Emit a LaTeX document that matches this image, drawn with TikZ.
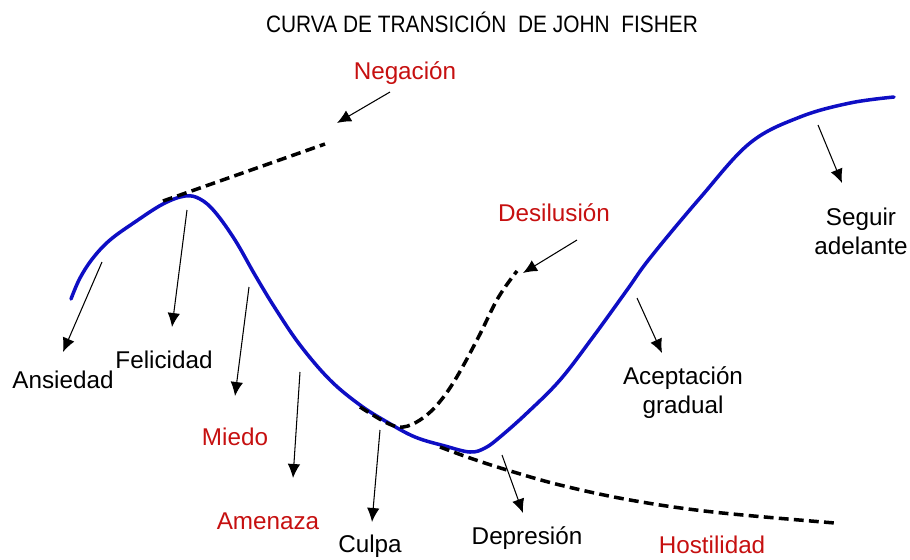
\documentclass[tikz,border=0pt]{standalone}
\usepackage{fontspec}
\setmainfont{Liberation Sans}
\usetikzlibrary{positioning,arrows.meta}
\definecolor{curveblue}{RGB}{14,14,196}
\definecolor{labelred}{RGB}{198,16,16}

\begin{document}
\begin{tikzpicture}[x=0.02cm,y=-0.02cm,
  lab/.style={font=\fontsize{13.8}{16.5}\selectfont, inner sep=0pt, align=center},
  redlab/.style={lab, text=labelred},
  pointer/.style={-{Latex[length=2.8mm,width=2.5mm]}, line width=0.6pt},
  phase/.style={curveblue, line width=2pt, line cap=round},
  branch/.style={line width=2pt, dash pattern=on 5.6pt off 3pt}]
\useasboundingbox (0,0) rectangle (910,559);

% title
\node[lab] (title) at (482,22) {\fontsize{13.5}{16}\selectfont\scalebox{0.88}[1]{CURVA DE TRANSICIÓN\ \ DE JOHN\ \ FISHER}};

% main curve
\draw[phase] plot[smooth, tension=0.6] coordinates {(71,299) (80,278) (93,258) (110,240) (135,222) (163,204) (185,196) (200,199) (215,212) (235,240) (255,275) (275,308) (300,345) (330,380) (360,405) (387,422) (415,437) (445,446) (470,452) (485,448) (500,437) (527,413) (560,380) (593,337) (627,290) (650,258) (700,198) (750,143) (800,117) (850,103) (894,97)};

% dashed branches
\draw[branch] (163,201) -- (325,144);
\draw[branch] plot[smooth, tension=0.6] coordinates {(360,407) (387,423) (403,427) (420,420) (437,405) (455,380) (478,338) (498,298) (517,271)};
\draw[branch] plot[smooth, tension=0.6] coordinates {(440,447) (470,458) (507,470) (560,485) (630,500) (713,512) (835,523)};

% labels
\node[redlab] (negacion) at (405,73) {Negación};
\node[redlab] (desilusion) at (554,213) {Desilusión};
\node[lab] (seguir) at (861,231) {Seguir\\adelante};
\node[lab] (ansiedad) at (63,380) {Ansiedad};
\node[lab] (felicidad) at (164,360) {Felicidad};
\node[redlab] (miedo) at (235,437) {Miedo};
\node[redlab] (amenaza) at (268,521) {Amenaza};
\node[lab] (culpa) at (370,546) {Culpa};
\node[lab] (depresion) at (527,538) {Depresión};
\node[redlab] (hostilidad) at (712,545) {Hostilidad};
\node[lab] (aceptacion) at (683,393) {Aceptación\\gradual};

% arrows
\coordinate (negacion-s) at (390,92);
\coordinate (negacion-e) at (337,123);
\coordinate (desilusion-s) at (577,240);
\coordinate (desilusion-e) at (523,273);
\coordinate (seguir-s) at (818,125);
\coordinate (seguir-e) at (842,183);
\coordinate (ansiedad-s) at (102,262);
\coordinate (ansiedad-e) at (63,352);
\coordinate (felicidad-s) at (187,210);
\coordinate (felicidad-e) at (172,327);
\coordinate (miedo-s) at (249,287);
\coordinate (miedo-e) at (235,396);
\coordinate (amenaza-s) at (300,372);
\coordinate (amenaza-e) at (293,478);
\coordinate (culpa-s) at (380,430);
\coordinate (culpa-e) at (372,522);
\coordinate (depresion-s) at (502,455);
\coordinate (depresion-e) at (523,513);
\coordinate (aceptacion-s) at (637,298);
\coordinate (aceptacion-e) at (662,353);

\draw[pointer] (negacion-s) -- (negacion-e);
\draw[pointer] (desilusion-s) -- (desilusion-e);
\draw[pointer] (seguir-s) -- (seguir-e);
\draw[pointer] (ansiedad-s) -- (ansiedad-e);
\draw[pointer] (felicidad-s) -- (felicidad-e);
\draw[pointer] (miedo-s) -- (miedo-e);
\draw[pointer] (amenaza-s) -- (amenaza-e);
\draw[pointer] (culpa-s) -- (culpa-e);
\draw[pointer] (depresion-s) -- (depresion-e);
\draw[pointer] (aceptacion-s) -- (aceptacion-e);
\end{tikzpicture}
\end{document}
